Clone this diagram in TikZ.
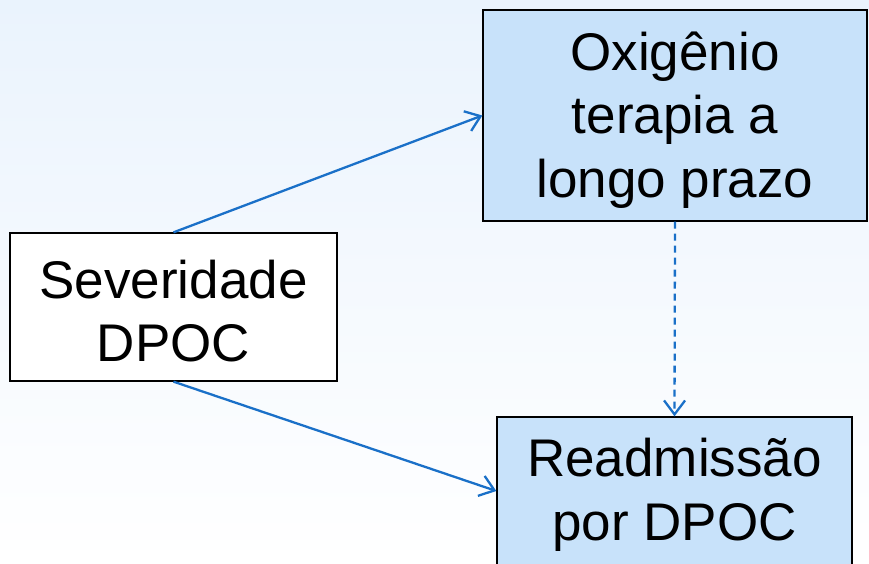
\documentclass[tikz,border=0pt]{standalone}
\usepackage{fontspec}
\setmainfont{Liberation Sans}
\usetikzlibrary{arrows.meta}
\definecolor{boxblue}{HTML}{C8E2FA}
\definecolor{arrowblue}{HTML}{1A70C8}
\definecolor{bgtop}{HTML}{EAF3FD}
\newcommand\mytop[1]{\rule{0pt}{#1}}
\newcommand\mybot[1]{\rule[-#1]{0pt}{#1}}
\begin{document}
\begin{tikzpicture}[x=1pt,y=-1pt,
  box/.style={draw=black, line width=1.3pt, align=center, inner sep=0pt,
    font=\fontsize{53}{63.5}\selectfont},
  conn/.style={draw=arrowblue, line width=2.3pt,
    -{Straight Barb[length=14pt,width=21pt,line width=2.3pt]}}]
\useasboundingbox (0,0) rectangle (869,563);
\shade[top color=bgtop, bottom color=white] (0,0) rectangle (869,563);
\begin{scope}
\clip (0,0) rectangle (869,563);
\node[box, fill=white, minimum width=327pt, minimum height=148pt] (sev) at (173.5,307)
  {\mytop{56pt}Severidade\\DPOC\mybot{10pt}};
\node[box, fill=boxblue, minimum width=384pt, minimum height=211pt] (oxi) at (675,115.5)
  {\mytop{50pt}Oxigênio\\terapia a\\longo prazo\mybot{14pt}};
\node[box, fill=boxblue, minimum width=355pt, minimum height=148pt] (rea) at (674.5,491)
  {\mytop{50pt}Readmissão\\por DPOC\mybot{15pt}};
\end{scope}
\draw[conn] (sev.north) -- (oxi.west);
\draw[conn] (sev.south) -- (rea.west);
\draw[conn, dashed, dash pattern=on 7pt off 5pt] (oxi.south) -- (rea.north);
\end{tikzpicture}
\end{document}
